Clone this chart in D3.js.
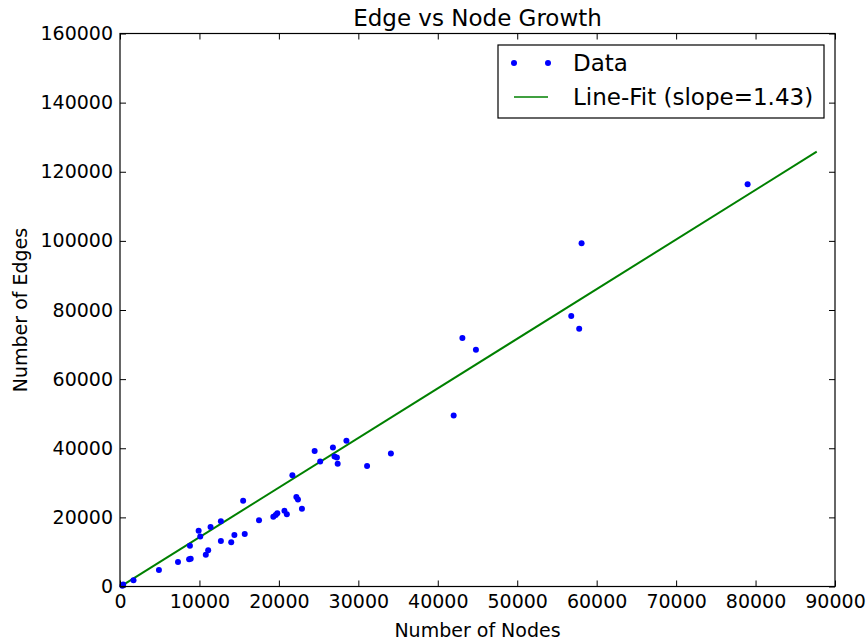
<!DOCTYPE html>
<html>
<head>
<meta charset="utf-8">
<script src="https://cdn.jsdelivr.net/npm/d3@7"></script>
<style>
    body { margin: 0; background: #fff; }
    text { font-family: "DejaVu Sans", sans-serif; fill: #000; }
</style>
</head>
<body>
<div id="chart"></div>
<script>
// values
const nodes = [300, 400, 1700, 4900, 7300, 8700, 8900, 8800, 9900, 10100, 10800, 11100, 11400, 12700, 12700,
    14000, 14400, 15500, 15700, 17500, 19300, 19600, 19800, 20700, 21000, 22200, 22400, 22900, 21700, 24500,
    25200, 26800, 27000, 27300, 27400, 28500, 31100, 34100, 42000, 43100, 44800, 56800, 57800, 58100, 79000];
const edges = [200, 600, 1800, 4800, 7100, 7900, 8000, 11800, 16100, 14500, 9200, 10500, 17200, 13200, 18900,
    12800, 14900, 24800, 15200, 19200, 20200, 20700, 21200, 21900, 20900, 25900, 25200, 22500, 32200, 39200,
    36200, 40200, 37600, 37300, 35500, 42200, 34900, 38500, 49500, 71900, 68500, 78300, 74600, 99300, 116400];

const fitNodes = [200, 87700];
const fitEdges = [200, 125800];

const xTicks = [0, 10000, 20000, 30000, 40000, 50000, 60000, 70000, 80000, 90000];
const yTicks = [0, 20000, 40000, 60000, 80000, 100000, 120000, 140000, 160000];

const width = 867,
      height = 643,
      margin = {top: 33.5, right: 32, bottom: 56.5, left: 120};
const innerW = width - margin.left - margin.right,
      innerH = height - margin.top - margin.bottom;

const svg = d3.select("#chart")
    .append("svg")
    .attr("width", width)
    .attr("height", height);

const g = svg.append("g")
    .attr("transform", `translate(${margin.left},${margin.top})`);

const x = d3.scaleLinear().domain([0, 90000]).range([0, innerW]);
const y = d3.scaleLinear().domain([0, 160000]).range([innerH, 0]);

const fmt = d3.format("d");

// fit line
const fit = fitNodes.map((n, i) => [n, fitEdges[i]]);
g.append("path")
    .datum(fit)
    .attr("d", d3.line().x(d => x(d[0])).y(d => y(d[1])))
    .attr("fill", "none")
    .attr("stroke", "#008000")
    .attr("stroke-width", 2);

// data points
const pts = nodes.map((n, i) => ({n: n, e: edges[i]}));
g.selectAll("circle.pt")
    .data(pts)
    .enter()
    .append("circle")
    .attr("class", "pt")
    .attr("cx", d => x(d.n))
    .attr("cy", d => y(d.e))
    .attr("r", 3)
    .attr("fill", "#0000ff");

// axes, ticks pointing inward
const axisStyle = sel => {
    sel.select(".domain").remove();
    sel.selectAll(".tick line").attr("stroke", "#000").attr("stroke-width", 1);
    sel.selectAll(".tick text").style("font-size", "19px").attr("fill", "#000");
};

g.append("g")
    .attr("transform", `translate(0,${innerH})`)
    .call(d3.axisBottom(x).tickValues(xTicks).tickFormat(fmt).tickSizeInner(-6).tickSizeOuter(0).tickPadding(8))
    .call(axisStyle);

g.append("g")
    .call(d3.axisLeft(y).tickValues(yTicks).tickFormat(fmt).tickSizeInner(-6).tickSizeOuter(0).tickPadding(7))
    .call(axisStyle);

g.append("g")
    .call(d3.axisTop(x).tickValues(xTicks).tickFormat("").tickSizeInner(-6).tickSizeOuter(0))
    .call(axisStyle);

g.append("g")
    .attr("transform", `translate(${innerW},0)`)
    .call(d3.axisRight(y).tickValues(yTicks).tickFormat("").tickSizeInner(-6).tickSizeOuter(0))
    .call(axisStyle);

// frame
g.append("rect")
    .attr("width", innerW)
    .attr("height", innerH)
    .attr("fill", "none")
    .attr("stroke", "#000")
    .attr("stroke-width", 1.2);

// title and labels
svg.append("text")
    .attr("x", margin.left + innerW / 2)
    .attr("y", 26)
    .attr("text-anchor", "middle")
    .style("font-size", "23px")
    .text("Edge vs Node Growth");

svg.append("text")
    .attr("x", margin.left + innerW / 2)
    .attr("y", 637)
    .attr("text-anchor", "middle")
    .style("font-size", "19px")
    .text("Number of Nodes");

svg.append("text")
    .attr("transform", `translate(27,${margin.top + innerH / 2}) rotate(-90)`)
    .attr("text-anchor", "middle")
    .style("font-size", "19px")
    .text("Number of Edges");

// legend
const legend = svg.append("g").attr("transform", "translate(498,45)");
legend.append("rect")
    .attr("width", 326)
    .attr("height", 73)
    .attr("fill", "#fff")
    .attr("stroke", "#000")
    .attr("stroke-width", 1.2);

legend.selectAll("circle")
    .data([16, 50])
    .enter()
    .append("circle")
    .attr("cx", d => d)
    .attr("cy", 18)
    .attr("r", 3)
    .attr("fill", "#0000ff");

legend.append("line")
    .attr("x1", 16).attr("x2", 50)
    .attr("y1", 52).attr("y2", 52)
    .attr("stroke", "#008000")
    .attr("stroke-width", 1.5);

legend.append("text")
    .attr("x", 75).attr("y", 26)
    .style("font-size", "23px")
    .text("Data");

legend.append("text")
    .attr("x", 75).attr("y", 60)
    .style("font-size", "23px")
    .text("Line-Fit (slope=1.43)");
</script>
</body>
</html>
